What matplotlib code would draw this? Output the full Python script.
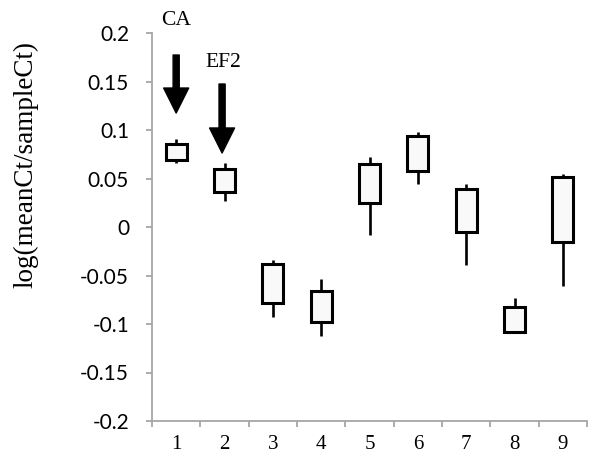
import matplotlib
matplotlib.use("Agg")
import matplotlib.pyplot as plt
import numpy as np

categories = ["1", "2", "3", "4", "5", "6", "7", "8", "9"]
box_high = [0.0856, 0.0598, -0.0381, -0.0656, 0.0649, 0.0935, 0.0388, -0.0821, 0.0512]
box_low = [0.0690, 0.0358, -0.0787, -0.0979, 0.0247, 0.0581, -0.0048, -0.1079, -0.0158]
whisk_high = [0.0904, 0.0663, -0.0340, -0.0533, 0.0718, 0.0976, 0.0443, -0.0735, 0.0546]
whisk_low = [0.0663, 0.0268, -0.0928, -0.1127, -0.0082, 0.0443, -0.0392, -0.1096, -0.0608]
y_ticks = [-0.2, -0.15, -0.1, -0.05, 0, 0.05, 0.1, 0.15, 0.2]
y_tick_labels = ["-0.2", "-0.15", "-0.1", "-0.05", "0", "0.05", "0.1", "0.15", "0.2"]
ylabel = "log(meanCt/sampleCt)"
annotations = ["CA", "EF2"]

fig = plt.figure(figsize=(5.9, 4.55), dpi=100)
ax = fig.add_axes([152/590, 1 - 421/455, 435/590, 388/455])

x = np.arange(1, len(categories) + 1)
bottoms = np.array(box_low)
heights = np.array(box_high) - bottoms

ax.vlines(x, whisk_low, whisk_high, color="black", lw=1.9, zorder=2)
ax.bar(x, heights, bottom=bottoms, width=0.44, facecolor="#f9f9f9",
       edgecolor="black", linewidth=2.2, zorder=3)

ax.set_xlim(0.5, len(categories) + 0.5)
ax.set_ylim(-0.2, 0.2)

grey = "#a6a6a6"
for s in ["top", "right"]:
    ax.spines[s].set_visible(False)
for s in ["left", "bottom"]:
    ax.spines[s].set_color(grey)
    ax.spines[s].set_linewidth(1.3)

ax.set_yticks(y_ticks)
ax.set_yticklabels(y_tick_labels, fontfamily="Lato", fontsize=15)
ax.tick_params(axis="y", direction="out", length=4.5, width=1.3, color=grey, pad=12)

ax.set_xticks(np.arange(0.5, len(categories) + 1, 1.0))
ax.set_xticklabels([])
ax.set_xticks(x, minor=True)
ax.set_xticklabels(categories, minor=True, fontfamily="Liberation Serif", fontsize=15)
ax.tick_params(axis="x", which="major", direction="out", length=4.5, width=1.3, color=grey)
ax.tick_params(axis="x", which="minor", length=0, pad=10)

ax.set_ylabel(ylabel, fontfamily="Liberation Serif", fontsize=19.5)
ax.yaxis.set_label_coords(-0.262, 0.66)

# Arrows and labels
arrow_kw = dict(arrowstyle="simple,head_length=0.9,head_width=0.9,tail_width=0.22",
                color="black", shrinkA=0, shrinkB=0, mutation_scale=20)
ax.annotate("", xy=(1.0, 0.1175), xytext=(1.0, 0.1773), arrowprops=arrow_kw, annotation_clip=False)
ax.annotate("", xy=(1.95, 0.0763), xytext=(1.95, 0.1474), arrowprops=arrow_kw, annotation_clip=False)
ax.text(1.0, 0.2134, annotations[0], ha="center", va="center", fontfamily="Liberation Serif",
        fontsize=15.5, clip_on=False)
ax.text(1.97, 0.170, annotations[1], ha="center", va="center", fontfamily="Liberation Serif",
        fontsize=15.5, clip_on=False)

fig.savefig("out.png", dpi=100)
